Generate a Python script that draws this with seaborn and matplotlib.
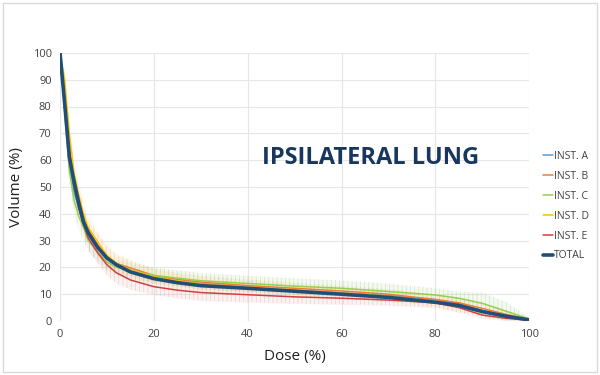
import numpy as np
import pandas as pd
import matplotlib
matplotlib.use("Agg")
import matplotlib.pyplot as plt
import seaborn as sns
from matplotlib.patches import Rectangle

# 剂量点 (%)
dose = [0, 1, 2, 3, 4, 5, 6, 8, 10, 12, 15, 20, 25, 30, 40, 50, 60, 70, 80, 85, 90, 95, 100]

# 各机构平均 DVH (体积 %)
inst_a = [100, 80, 58, 48, 42, 36, 32, 27, 23.5, 21.5, 19, 16.5, 15, 14, 12.5, 11.5, 10.5, 9.5, 8, 6.5, 4, 2, 0.5]
inst_b = [100, 84, 64, 54, 46, 39, 34, 28.5, 24, 21.5, 19.8, 17, 15.5, 14.5, 13.2, 12.2, 11.2, 10, 8, 6.8, 4.7, 2.5, 0.6]
inst_c = [100, 78, 56, 45, 39, 35, 30, 25.8, 22, 20, 18.8, 17, 16, 15, 14, 13, 12.2, 11, 9.7, 8.5, 6.6, 3.7, 0.8]
inst_d = [100, 90, 70, 55, 47, 40, 35, 29.6, 24.5, 21.5, 19, 16.5, 15, 13.8, 12.5, 11.5, 10.4, 9.2, 7.2, 5.8, 3.3, 1.5, 0.3]
inst_e = [100, 82, 62, 50, 42, 36, 31, 25.5, 21, 18, 15.3, 12.8, 11.5, 10.6, 9.8, 9, 8.5, 7.8, 6.8, 5, 2.2, 1, 0.3]
total = [100, 81, 61, 52, 44, 37, 33, 27.5, 23.5, 21, 18.3, 15.8, 14.3, 13.2, 12.2, 11.1, 10, 8.8, 7, 5.8, 3.5, 1.8, 0.4]

# 标准差
std_b = [0, 3, 4, 4, 4, 3.5, 3.5, 4, 4, 3.5, 3, 2.5, 2.5, 2.5, 2.3, 2.2, 2, 2, 2, 2, 1.8, 1.2, 0.3]
std_c = [0, 4, 5, 5, 5, 5, 4, 3.5, 3, 3, 3, 3, 3, 3, 3, 3, 3, 3, 2.6, 2.5, 4, 3.5, 0.5]
std_d = [0, 4, 5, 5, 5, 4, 4, 4, 3.5, 3, 3, 3, 3, 2.5, 2, 2, 2, 2, 2, 2, 1.5, 1, 0.2]
std_e = [0, 3, 4, 4, 4, 4, 4, 4, 4, 4, 3.5, 3, 3, 3, 2.8, 2.5, 2.3, 2, 1.8, 1.8, 1.2, 0.8, 0.2]

labels = ["INST. A", "INST. B", "INST. C", "INST. D", "INST. E", "TOTAL"]
colors = ["#5B9BD5", "#ED7D31", "#92D050", "#FFC000", "#D04040", "#1F4E79"]

df = pd.DataFrame({
    "dose": dose * 6,
    "volume": inst_a + inst_b + inst_c + inst_d + inst_e + total,
    "group": np.repeat(labels, len(dose)),
})

sns.set_style("whitegrid")
plt.rcParams["font.family"] = ["Open Sans", "DejaVu Sans"]
plt.rcParams["hatch.linewidth"] = 0.5

fig = plt.figure(figsize=(6, 3.75), dpi=100)
ax = fig.add_axes([0.1, 0.144, 0.782, 0.715])

# 误差带 (浅色底 + 竖线纹理)
bands = [(inst_b, std_b, "#F4B183"), (inst_c, std_c, "#A9D18E"),
         (inst_d, std_d, "#FFE699"), (inst_e, std_e, "#E6A0A0")]
for mean, sd, c in bands:
    m = np.array(mean)
    s = np.array(sd)
    ax.fill_between(dose, m - s, m + s, color=c, alpha=0.12, linewidth=0)
    ax.fill_between(dose, m - s, m + s, facecolor="none", edgecolor=(*matplotlib.colors.to_rgb(c), 0.45),
                    hatch="||||", linewidth=0)

# 各机构曲线
sns.lineplot(data=df[df["group"] != "TOTAL"], x="dose", y="volume", hue="group",
             palette=dict(zip(labels[:5], colors[:5])), linewidth=1.1, legend=False, ax=ax)
sns.lineplot(data=df[df["group"] == "TOTAL"], x="dose", y="volume",
             color=colors[5], linewidth=2.6, legend=False, ax=ax)

ax.set_xlim(0, 100)
ax.set_ylim(0, 100)
ax.set_xticks(range(0, 101, 20))
ax.set_yticks(range(0, 101, 10))
ax.grid(color="#E6E6E6", linewidth=0.8)
for s in ax.spines.values():
    s.set_visible(False)
ax.tick_params(length=0, labelsize=8, colors="#404040", pad=6)
ax.set_xlabel("Dose (%)", fontsize=11, color="#202020", labelpad=6)
ax.set_ylabel("Volume (%)", fontsize=11, color="#202020", labelpad=6)

ax.text(0.661, 0.608, "IPSILATERAL LUNG", transform=ax.transAxes, ha="center", va="center",
        fontsize=17, fontweight="bold", color="#17375E")

handles = [plt.Line2D([], [], color=c, lw=(2.6 if l == "TOTAL" else 1.1)) for l, c in zip(labels, colors)]
fig.legend(handles, labels, loc="center left", bbox_to_anchor=(0.89, 0.45), frameon=False,
           fontsize=7.5, handlelength=0.9, handletextpad=0.15, labelspacing=0.85, labelcolor="#404040")

fig.patches.append(Rectangle((0.005, 0.008), 0.99, 0.984, transform=fig.transFigure,
                             fill=False, edgecolor="#D9D9D9", linewidth=1))

fig.savefig("out.png", dpi=100)
